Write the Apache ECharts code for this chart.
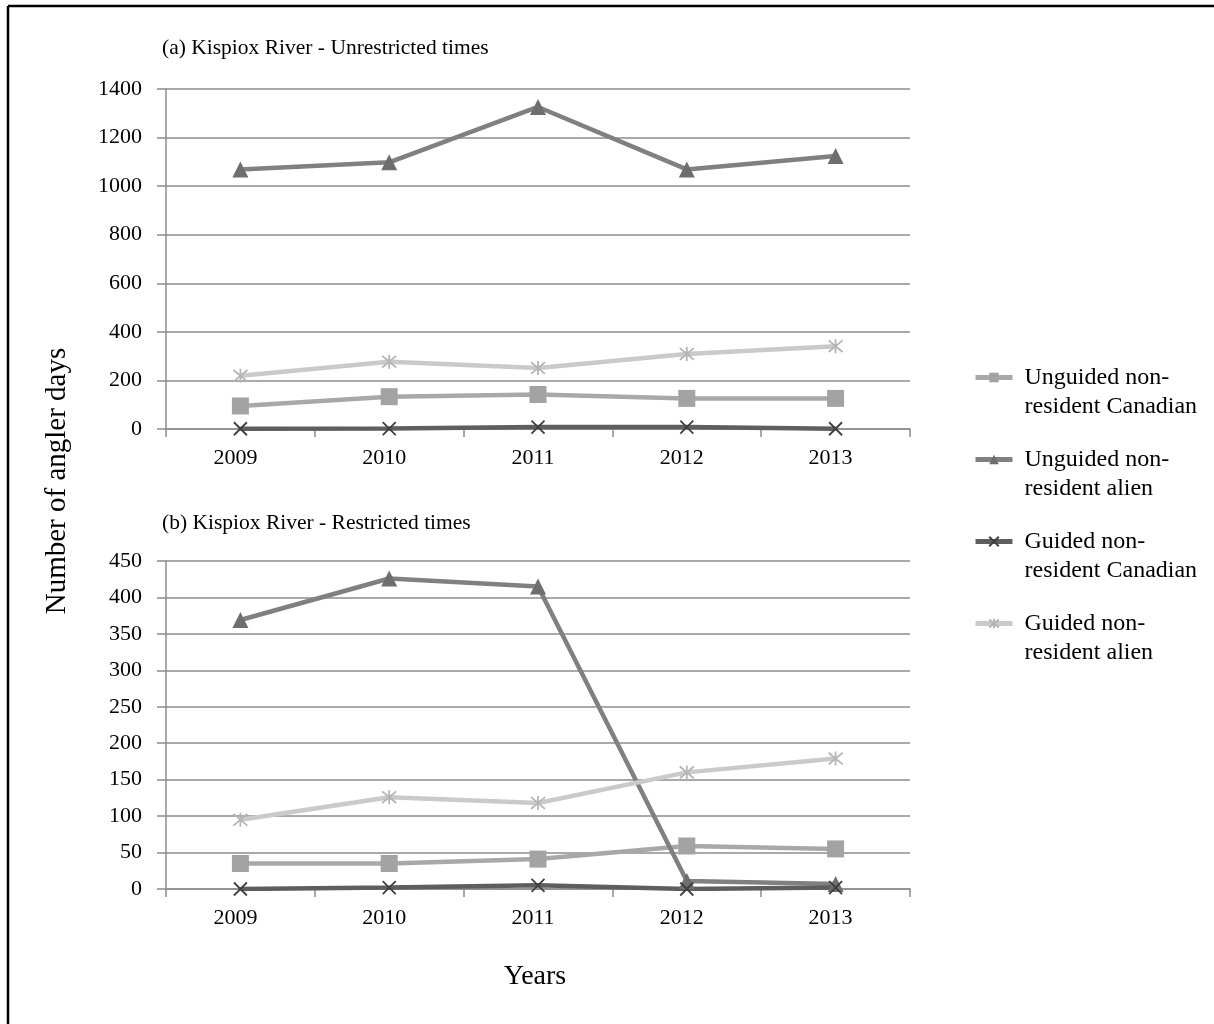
<!DOCTYPE html>
<html>
<head>
<meta charset="utf-8">
<script src="https://cdn.jsdelivr.net/npm/echarts@6/dist/echarts.min.js"></script>
<style>
  html, body { margin: 0; padding: 0; background: #fff; }
</style>
</head>
<body>
<div id="main" style="width: 1214px;height:1024px;"></div>
<script>
// data
var years = ['2009', '2010', '2011', '2012', '2013'];
var seriesNames = [
  'Unguided non-\nresident Canadian',
  'Unguided non-\nresident alien',
  'Guided non-\nresident Canadian',
  'Guided non-\nresident alien'
];
// (a) unrestricted times
var unrestrictedUnguidedCanadian = [95, 133, 142, 126, 126];
var unrestrictedUnguidedAlien = [1069, 1098, 1326, 1069, 1124];
var unrestrictedGuidedCanadian = [1, 2, 8, 8, 1];
var unrestrictedGuidedAlien = [219, 277, 251, 309, 341];
// (b) restricted times
var restrictedUnguidedCanadian = [35, 35, 41, 59, 55];
var restrictedUnguidedAlien = [369, 426, 415, 11, 7];
var restrictedGuidedCanadian = [0, 2, 5, 0, 2];
var restrictedGuidedAlien = [95, 126, 118, 160, 179];

var font = 'Liberation Serif';
var gridColor = '#8c8c8c';

// marker styles per series (square, triangle, cross, asterisk)
var styles = [
  { line: '#a8a8a8', mark: '#a3a3a3', symbol: 'rect', size: 17, stroke: 0 },
  { line: '#808080', mark: '#6e6e6e', symbol: 'triangle', size: 16, stroke: 0 },
  { line: '#5e5e5e', mark: '#3f3f3f', symbol: 'path://M0,0L10,10M10,0L0,10', size: 13, stroke: 1.8 },
  { line: '#cacaca', mark: '#b5b5b5', symbol: 'path://M0,0L10,10M10,0L0,10M5,-1L5,11', size: 14, stroke: 1.8 }
];

function makeSeries(name, data, idx, axisIdx) {
  var s = styles[idx];
  return {
    name: name,
    type: 'line',
    xAxisIndex: axisIdx,
    yAxisIndex: axisIdx,
    data: data,
    symbol: s.symbol,
    symbolSize: s.size,
    showAllSymbol: true,
    lineStyle: { color: s.line, width: 4.5 },
    itemStyle: { color: s.mark, borderColor: s.mark, borderWidth: s.stroke },
    emphasis: { disabled: true },
    animation: false
  };
}

function xAxisFor(gridIdx, margin) {
  return {
    type: 'category',
    gridIndex: gridIdx,
    data: years,
    boundaryGap: true,
    axisLine: { lineStyle: { color: gridColor, width: 1.5 } },
    axisTick: { show: true, length: 8, lineStyle: { color: gridColor, width: 1.5 } },
    axisLabel: { color: '#000', fontFamily: font, fontSize: 22, margin: margin, padding: [0, 10, 0, 0] }
  };
}

function yAxisFor(gridIdx, max, interval) {
  return {
    type: 'value',
    gridIndex: gridIdx,
    min: 0,
    max: max,
    interval: interval,
    axisLine: { show: true, lineStyle: { color: gridColor, width: 1.5 } },
    axisTick: { show: true, length: 9, lineStyle: { color: gridColor, width: 1.5 } },
    axisLabel: { color: '#000', fontFamily: font, fontSize: 22, margin: 24,
      formatter: function (v) { return String(v); } },
    splitLine: { show: true, lineStyle: { color: gridColor, width: 1.5 } }
  };
}

var chart = echarts.init(document.getElementById('main'), null, { renderer: 'canvas' });
chart.setOption({
  backgroundColor: '#fff',
  animation: false,
  title: [
    { text: '(a) Kispiox River - Unrestricted times', left: 157, top: 32,
      textStyle: { fontFamily: font, fontSize: 21.5, fontWeight: 'normal', color: '#000' } },
    { text: '(b) Kispiox River - Restricted times', left: 157, top: 507,
      textStyle: { fontFamily: font, fontSize: 21.5, fontWeight: 'normal', color: '#000' } }
  ],
  grid: [
    { left: 166, top: 89, width: 744, height: 340 },
    { left: 166, top: 561, width: 744, height: 328 }
  ],
  legend: {
    orient: 'vertical',
    left: 968,
    top: 329,
    itemWidth: 37,
    itemHeight: 12,
    itemGap: -5,
    data: seriesNames,
    lineStyle: { width: 5 },
    // a blank leading line puts the icon level with the first text line
    formatter: function (name) { return ' \n' + name; },
    textStyle: { fontFamily: font, fontSize: 24, color: '#000', lineHeight: 29, padding: [0, 0, 0, 7] }
  },
  xAxis: [xAxisFor(0, 18), xAxisFor(1, 18)],
  yAxis: [yAxisFor(0, 1400, 200), yAxisFor(1, 450, 50)],
  series: [
    makeSeries(seriesNames[0], unrestrictedUnguidedCanadian, 0, 0),
    makeSeries(seriesNames[1], unrestrictedUnguidedAlien, 1, 0),
    makeSeries(seriesNames[2], unrestrictedGuidedCanadian, 2, 0),
    makeSeries(seriesNames[3], unrestrictedGuidedAlien, 3, 0),
    makeSeries(seriesNames[0], restrictedUnguidedCanadian, 0, 1),
    makeSeries(seriesNames[1], restrictedUnguidedAlien, 1, 1),
    makeSeries(seriesNames[2], restrictedGuidedCanadian, 2, 1),
    makeSeries(seriesNames[3], restrictedGuidedAlien, 3, 1)
  ],
  graphic: [
    // page frame (only top and left edges are visible in the picture)
    { type: 'line', shape: { x1: 8, y1: 6, x2: 1214, y2: 6 }, style: { stroke: '#000', lineWidth: 2.5 } },
    { type: 'line', shape: { x1: 8, y1: 6, x2: 8, y2: 1024 }, style: { stroke: '#000', lineWidth: 2.5 } },
    { type: 'text', x: 57, y: 481, rotation: Math.PI / 2,
      style: { text: 'Number of angler days', fontFamily: font, fontSize: 29, fill: '#000',
        align: 'center', verticalAlign: 'middle' } },
    { type: 'text', x: 535, y: 977,
      style: { text: 'Years', fontFamily: font, fontSize: 28, fill: '#000',
        align: 'center', verticalAlign: 'middle' } }
  ]
});
</script>
</body>
</html>
